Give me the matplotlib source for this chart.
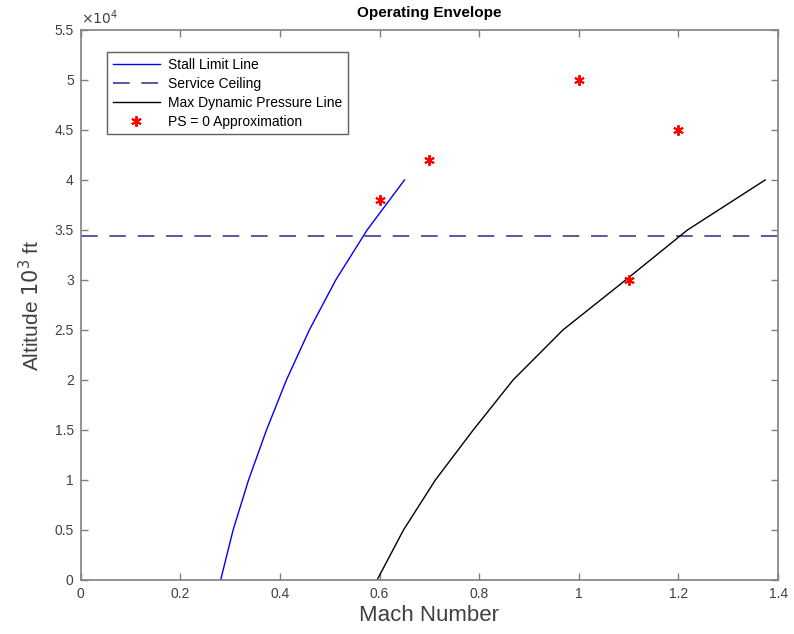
import matplotlib
matplotlib.use('Agg')
import matplotlib.pyplot as plt

plt.rcParams['font.family'] = ['Liberation Sans', 'DejaVu Sans']

# Stall limit line (Mach vs altitude)
stall_alt = [0, 5000, 10000, 15000, 20000, 25000, 30000, 35000, 40000]
stall_mach = [0.281, 0.306, 0.337, 0.373, 0.413, 0.459, 0.512, 0.575, 0.650]

# Max dynamic pressure line
q_alt = [0, 5000, 10000, 15000, 20000, 25000, 30000, 35000, 40000]
q_mach = [0.595, 0.648, 0.712, 0.788, 0.868, 0.968, 1.094, 1.218, 1.374]

# Service ceiling
ceiling = 34400
ceiling_mach = [0, 1.4]

# PS = 0 approximation points
ps_mach = [0.6, 0.7, 1.0, 1.1, 1.2]
ps_alt = [38000, 42000, 50000, 30000, 45000]

xticks = [0, 0.2, 0.4, 0.6, 0.8, 1, 1.2, 1.4]
xticklabels = ['0', '0.2', '0.4', '0.6', '0.8', '1', '1.2', '1.4']
yticks = [i * 5000 for i in range(12)]
yticklabels = ['0', '0.5', '1', '1.5', '2', '2.5', '3', '3.5', '4', '4.5', '5', '5.5']

grey = '#404040'

fig = plt.figure(figsize=(7.94, 6.34), dpi=100)
ax = fig.add_axes([0.1016, 0.0852, 0.8784, 0.8675])

ax.plot(stall_mach, stall_alt, '-', color='#0000ff', lw=1.0, label='Stall Limit Line')
ax.plot(ceiling_mach, [ceiling, ceiling], '--', color='#3c3c96', lw=1.2,
        dashes=(10, 7), label='Service Ceiling')
ax.plot(q_mach, q_alt, '-', color='black', lw=1.0, label='Max Dynamic Pressure Line')
ax.plot(ps_mach, ps_alt, linestyle='none', marker=(6, 2, 0), color='red',
        markersize=7.5, mew=1.4, label='PS = 0 Approximation')

ax.set_xlim(0, 1.4)
ax.set_ylim(0, 55000)
ax.set_xticks(xticks)
ax.set_xticklabels(xticklabels)
ax.set_yticks(yticks)
ax.set_yticklabels(yticklabels)
ax.text(0.0, 1.006, r'$\times10^{4}$', transform=ax.transAxes, ha='left', va='bottom',
        fontsize=10, color=grey)

for s in ax.spines.values():
    s.set_color('#808080')
    s.set_linewidth(1.2)
ax.tick_params(direction='in', top=True, right=True, length=5, width=1,
               color='#808080', labelsize=10, labelcolor=grey, pad=5)

ax.set_xlabel('Mach Number', fontsize=16, color=grey, labelpad=3)
ax.set_ylabel('Altitude $10^3$ ft', fontsize=15, color=grey, labelpad=8)
ax.set_title('Operating Envelope', fontsize=11, fontweight='bold', pad=9)

leg = ax.legend(loc='upper left', bbox_to_anchor=(0.038, 0.96), borderaxespad=0,
                fontsize=10, fancybox=False, framealpha=1, edgecolor='#606060',
                handlelength=3.4, handletextpad=0.6, labelspacing=0.36, borderpad=0.4)
leg.get_frame().set_linewidth(1.0)

fig.savefig('out.png', dpi=100)
